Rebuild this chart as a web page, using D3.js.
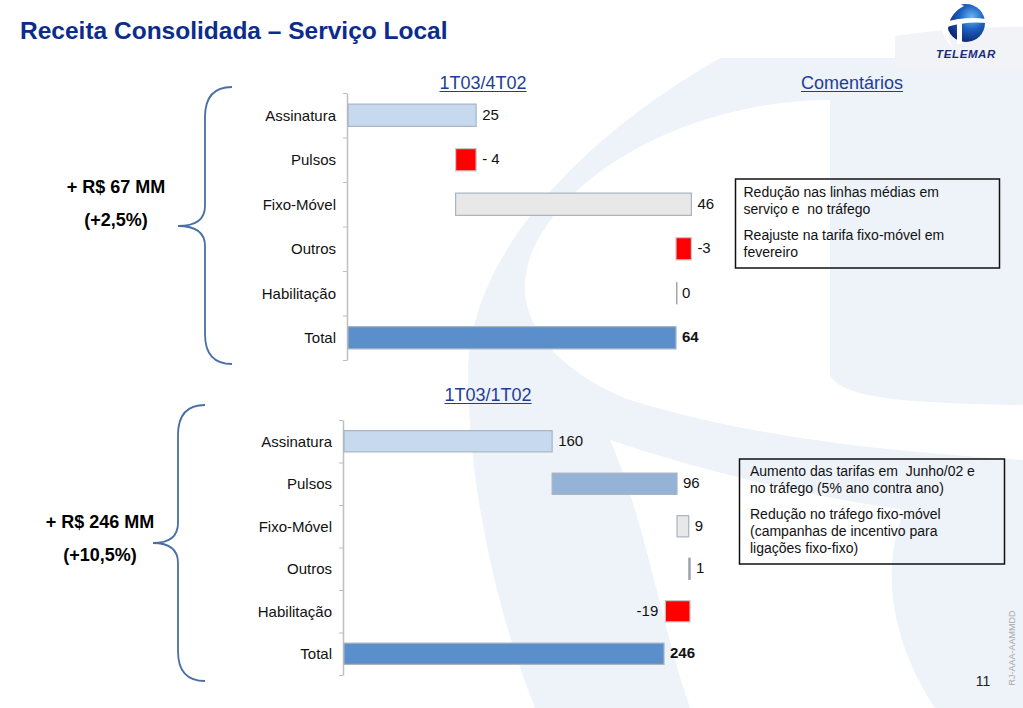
<!DOCTYPE html>
<html>
<head>
<meta charset="utf-8">
<script src="https://cdn.jsdelivr.net/npm/d3@7"></script>
<style>
  body { margin: 0; background: #fff; }
  svg { display: block; font-family: Arial, "Liberation Sans", sans-serif; }
  text { white-space: pre; }
</style>
</head>
<body>
<div id="chart"></div>
<script>
// data
const categories = ["Assinatura", "Pulsos", "Fixo-Móvel", "Outros", "Habilitação", "Total"];
const values4T02 = [25, -4, 46, -3, 0, 64];
const labels4T02 = ["25", "- 4", "46", "-3", "0", "64"];
const values1T02 = [160, 96, 9, 1, -19, 246];
const labels1T02 = ["160", "96", "9", "1", "-19", "246"];
const comments4T02 = [
  ["Redução nas linhas médias em", "serviço e  no tráfego"],
  ["Reajuste na tarifa fixo-móvel em", "fevereiro"]
];
const comments1T02 = [
  ["Aumento das tarifas em  Junho/02 e", "no tráfego (5% ano contra ano)"],
  ["Redução no tráfego fixo-móvel", "(campanhas de incentivo para", "ligações fixo-fixo)"]
];

const width = 1023;
const height = 708;

const svg = d3.select("#chart").append("svg")
  .attr("width", width)
  .attr("height", height);

// background watermark (big faded globe)
const wm = svg.append("g");
wm.append("path")
  .attr("d", "M720,58 C560,150 465,270 468,380 C470,500 500,620 535,708 L1023,708 L1023,58 Z")
  .attr("fill", "#eef3f9");
wm.append("path")
  .attr("d", "M830,100 C700,100 570,165 532,252 C505,320 560,372 630,400 C760,440 900,452 1023,460 L1023,405 C900,403 842,398 830,375 Z")
  .attr("fill", "#fff");
wm.append("path")
  .attr("d", "M610,440 C645,520 660,620 690,708 L935,708 C890,640 880,565 905,510 C800,495 700,470 610,440 Z")
  .attr("fill", "#fff");
// light band behind logo
svg.append("path")
  .attr("d", "M895,36 Q960,26 1023,27 L1023,70 L895,70 Z")
  .attr("fill", "#f1f3f6");

// title
svg.append("text")
  .attr("x", 20).attr("y", 38.5)
  .attr("font-size", 24.5).attr("font-weight", "bold")
  .attr("fill", "#0c2c8c")
  .text("Receita Consolidada – Serviço Local");

// logo
const defs = svg.append("defs");
const grad = defs.append("radialGradient").attr("id", "globe")
  .attr("cx", "65%").attr("cy", "35%").attr("r", "70%");
grad.append("stop").attr("offset", "0%").attr("stop-color", "#6ab8f2");
grad.append("stop").attr("offset", "45%").attr("stop-color", "#1e62c2");
grad.append("stop").attr("offset", "100%").attr("stop-color", "#0b2470");
const logo = svg.append("g");
logo.append("circle").attr("cx", 966).attr("cy", 23).attr("r", 19).attr("fill", "url(#globe)");
logo.append("path")
  .attr("d", "M960,4 C941,8 935,34 953,47 C944,34 947,14 964,6 Z")
  .attr("fill", "#fff");
logo.append("path")
  .attr("d", "M945,22 Q966,16 986,19 L986,23 Q966,21 947,27 Z")
  .attr("fill", "#fff");
logo.append("rect").attr("x", 957).attr("y", 19).attr("width", 5).attr("height", 25).attr("fill", "#fff");
logo.append("text")
  .attr("x", 966).attr("y", 57.5)
  .attr("text-anchor", "middle")
  .attr("font-size", 11.5).attr("font-weight", "bold").attr("font-style", "italic")
  .attr("letter-spacing", 0.6)
  .attr("fill", "#1b2d7a")
  .text("TELEMAR");

// underlined headers
function header(txt, cx, y) {
  const t = svg.append("text")
    .attr("x", cx).attr("y", y)
    .attr("text-anchor", "middle")
    .attr("font-size", 18)
    .attr("fill", "#1f3d98")
    .text(txt);
  const w = t.node().getComputedTextLength();
  svg.append("line")
    .attr("x1", cx - w / 2).attr("x2", cx + w / 2)
    .attr("y1", y + 2.5).attr("y2", y + 2.5)
    .attr("stroke", "#1f3d98").attr("stroke-width", 1.2);
}
header("1T03/4T02", 483, 89);
header("Comentários", 852, 89);
header("1T03/1T02", 488, 401);

// curly braces
function brace(xEnd, xMid, xTip, yTop, yTip, yBot) {
  const r = 30, rt = 20;
  const p = d3.path();
  p.moveTo(xEnd, yTop);
  p.quadraticCurveTo(xMid, yTop, xMid, yTop + r);
  p.lineTo(xMid, yTip - rt);
  p.quadraticCurveTo(xMid, yTip, xTip, yTip);
  p.quadraticCurveTo(xMid, yTip, xMid, yTip + rt);
  p.lineTo(xMid, yBot - r);
  p.quadraticCurveTo(xMid, yBot, xEnd, yBot);
  svg.append("path")
    .attr("d", p.toString())
    .attr("fill", "none")
    .attr("stroke", "#4a6fa6")
    .attr("stroke-width", 1.8);
}
brace(232, 205, 178, 87, 226, 364);
brace(205, 178, 153, 405, 543, 681);

// left summary labels
function summary(lines, cx, y0) {
  lines.forEach((s, i) => {
    svg.append("text")
      .attr("x", cx).attr("y", y0 + i * 33)
      .attr("text-anchor", "middle")
      .attr("font-size", 18).attr("font-weight", "bold")
      .attr("fill", "#000")
      .text(s);
  });
}
summary(["+ R$ 67 MM", "(+2,5%)"], 116, 193);
summary(["+ R$ 246 MM", "(+10,5%)"], 100, 528);

// comment boxes
function commentBox(groups, x, y, w, h, tx, firstBase) {
  svg.append("rect")
    .attr("x", x).attr("y", y).attr("width", w).attr("height", h)
    .attr("fill", "none").attr("stroke", "#111").attr("stroke-width", 1.5);
  let yy = firstBase;
  groups.forEach(lines => {
    lines.forEach(s => {
      svg.append("text")
        .attr("x", tx).attr("y", yy)
        .attr("font-size", 14).attr("fill", "#111")
        .text(s);
      yy += 17;
    });
    yy += 9;
  });
}
commentBox(comments4T02, 735.5, 179, 264, 89, 743.5, 197);
commentBox(comments1T02, 739.5, 459, 265, 105, 750, 476);

// waterfall charts
function waterfall(values, labels, fills, o) {
  const n = categories.length;
  const g = svg.append("g");
  const y = d3.scaleBand()
    .domain(categories)
    .range([o.top, o.bottom])
    .paddingInner(0.5)
    .paddingOuter(0.25);
  const yEdge = d3.scaleLinear().domain([0, n]).range([o.top, o.bottom]);
  const x = d3.scaleLinear().domain([0, o.domainMax]).range([o.x0, o.x1]);

  let cum = 0;
  const bars = values.map((v, i) => {
    let a, b;
    if (i === n - 1) { a = 0; b = v; }
    else { a = cum; b = cum + v; cum = b; }
    return { cat: categories[i], v, lo: Math.min(a, b), hi: Math.max(a, b), label: labels[i], fill: fills[i] };
  });

  const axis = g.append("g")
    .attr("transform", `translate(${o.axisX},0)`)
    .call(d3.axisLeft(yEdge).ticks(n).tickSize(4).tickSizeOuter(0).tickFormat(""));
  axis.select(".domain").attr("stroke", "#bfbfbf").attr("stroke-width", 1.5);
  axis.selectAll(".tick line").attr("stroke", "#bfbfbf").attr("stroke-width", 1);

  g.selectAll("text.cat")
    .data(bars).enter().append("text")
    .attr("class", "cat")
    .attr("x", o.axisX - 11)
    .attr("y", d => y(d.cat) + y.bandwidth() / 2)
    .attr("dy", "0.35em")
    .attr("text-anchor", "end")
    .attr("font-size", 15)
    .attr("fill", "#111")
    .text(d => d.cat);

  g.selectAll("rect.bar")
    .data(bars).enter().append("rect")
    .attr("class", "bar")
    .attr("x", d => x(d.lo))
    .attr("y", d => y(d.cat))
    .attr("width", d => Math.max(x(d.hi) - x(d.lo), 1.5))
    .attr("height", y.bandwidth())
    .attr("fill", d => d.fill)
    .attr("stroke", d => d.v === 0 ? "none" : (d.fill === "#ff0000" ? "#c8c8c8" : "#a9b4c0"))
    .attr("stroke-width", 1.2);

  g.selectAll("text.val")
    .data(bars).enter().append("text")
    .attr("class", "val")
    .attr("x", d => (o.negLeft && d.v < 0) ? x(d.lo) - 7 : x(d.hi) + 6)
    .attr("y", d => y(d.cat) + y.bandwidth() / 2)
    .attr("dy", "0.3em")
    .attr("text-anchor", d => (o.negLeft && d.v < 0) ? "end" : "start")
    .attr("font-size", 15)
    .attr("font-weight", (d, i) => i === n - 1 ? "bold" : "normal")
    .attr("fill", "#111")
    .text(d => d.label);
}

waterfall(values4T02, labels4T02,
  ["#c6d9ef", "#ff0000", "#e8e8e8", "#ff0000", "#a6a6a6", "#5a8fcb"],
  { top: 93, bottom: 360, axisX: 347, x0: 348, x1: 676, domainMax: 64, negLeft: false });

waterfall(values1T02, labels1T02,
  ["#c6d9ef", "#95b3d7", "#e8e8e8", "#8c8c8c", "#ff0000", "#5a8fcb"],
  { top: 420, bottom: 675, axisX: 343, x0: 344, x1: 664, domainMax: 246, negLeft: true });

// footer
svg.append("text")
  .attr("x", 983).attr("y", 686)
  .attr("text-anchor", "middle")
  .attr("font-size", 14).attr("fill", "#222")
  .text("11");
svg.append("text")
  .attr("transform", "translate(1015,648) rotate(-90)")
  .attr("text-anchor", "middle")
  .attr("font-size", 9).attr("fill", "#a8a8a8")
  .text("RJ-AAA-AAMMDD");
</script>
</body>
</html>
